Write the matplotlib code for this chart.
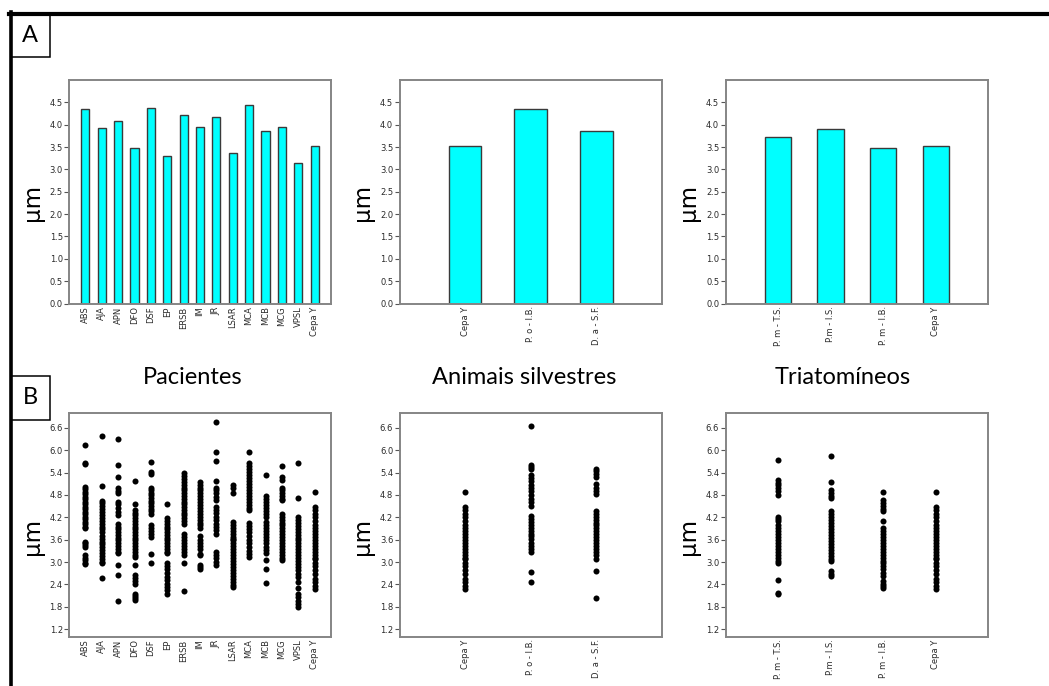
import matplotlib
matplotlib.use("Agg")
import matplotlib.pyplot as plt
from matplotlib.patches import Rectangle
from matplotlib.lines import Line2D

# --- bar chart means (A) ---
pac_labels = ["ABS", "AJA", "APN", "DFO", "DSF", "EP", "ERSB", "IM", "JR",
              "LSAR", "MCA", "MCB", "MCG", "VPSL", "Cepa Y"]
pac_means = [4.35, 3.92, 4.08, 3.47, 4.37, 3.31, 4.21, 3.94, 4.18,
             3.36, 4.45, 3.85, 3.94, 3.14, 3.53]

ani_labels = ["Cepa Y", "P. o - I.B.", "D. a - S.F."]
ani_means = [3.52, 4.35, 3.87]

tri_labels = ["P. m - T.S.", "P.m - I.S.", "P. m - I.B.", "Cepa Y"]
tri_means = [3.73, 3.90, 3.47, 3.52]

# --- individual measurements (B) ---
abs_v = [6.15, 5.67, 5.62, 5.02, 4.95, 4.88, 4.82, 4.75, 4.68, 4.62, 4.55, 4.48, 4.42, 4.35, 4.28,
         4.22, 4.15, 4.08, 4.02, 3.95, 3.90, 3.55, 3.50, 3.45, 3.40, 3.20, 3.12, 3.05, 2.98, 2.94]
aja_v = [6.38, 5.04, 4.65, 4.58, 4.50, 4.42, 4.35, 4.25, 4.18, 4.10, 4.02, 3.95, 3.88, 3.80, 3.70,
         3.62, 3.55, 3.48, 3.40, 3.32, 3.25, 3.15, 3.08, 3.00, 2.96, 2.57]
apn_v = [6.29, 5.60, 5.27, 4.98, 4.90, 4.84, 4.62, 4.55, 4.45, 4.35, 4.26, 4.03, 3.95, 3.88, 3.80,
         3.72, 3.65, 3.58, 3.50, 3.42, 3.35, 3.28, 3.23, 2.91, 2.66, 1.95]
dfo_v = [5.17, 4.57, 4.39, 4.32, 4.25, 4.18, 4.10, 4.02, 3.95, 3.88, 3.80, 3.72, 3.65, 3.58, 3.50,
         3.42, 3.35, 3.28, 3.20, 3.14, 2.91, 2.66, 2.58, 2.50, 2.42, 2.15, 2.10, 2.04, 1.98]
dsf_v = [5.68, 5.42, 5.37, 5.00, 4.93, 4.86, 4.79, 4.72, 4.65, 4.58, 4.50, 4.43, 4.36, 4.30, 3.99,
         3.90, 3.82, 3.74, 3.67, 3.21, 2.98]
ep_v = [4.57, 4.17, 4.10, 4.02, 3.95, 3.88, 3.80, 3.72, 3.65, 3.58, 3.50, 3.42, 3.35, 3.28, 3.23,
        2.97, 2.88, 2.80, 2.70, 2.60, 2.51, 2.42, 2.33, 2.24, 2.15]
ersb_v = [5.38, 5.30, 5.22, 5.15, 5.07, 5.00, 4.92, 4.85, 4.78, 4.70, 4.62, 4.55, 4.47, 4.40, 4.32,
          4.25, 4.17, 4.10, 4.02, 3.76, 3.68, 3.60, 3.52, 3.44, 3.36, 3.28, 3.20, 2.97, 2.22]
im_v = [5.16, 5.08, 5.00, 4.92, 4.84, 4.76, 4.68, 4.62, 4.54, 4.46, 4.38, 4.30, 4.22, 4.14, 4.06,
        3.98, 3.90, 3.69, 3.60, 3.52, 3.44, 3.36, 3.22, 3.18, 2.91, 2.86, 2.82]
jr_v = [6.77, 5.96, 5.71, 5.17, 5.00, 4.92, 4.84, 4.75, 4.66, 4.48, 4.40, 4.32, 4.22, 4.12, 4.02,
        3.94, 3.85, 3.76, 3.27, 3.18, 3.10, 3.00, 2.91]
lsar_v = [5.07, 4.98, 4.86, 4.08, 4.00, 3.92, 3.84, 3.76, 3.68, 3.63, 3.58, 3.50, 3.42, 3.34, 3.26,
          3.18, 3.10, 3.02, 2.94, 2.86, 2.78, 2.70, 2.62, 2.54, 2.46, 2.39, 2.33]
mca_v = [5.94, 5.65, 5.58, 5.50, 5.42, 5.34, 5.26, 5.18, 5.10, 5.02, 4.94, 4.86, 4.78, 4.70, 4.62,
         4.54, 4.46, 4.39, 4.04, 3.96, 3.88, 3.80, 3.70, 3.60, 3.50, 3.40, 3.30, 3.22, 3.14]
mcb_v = [5.33, 4.78, 4.70, 4.62, 4.54, 4.46, 4.38, 4.30, 4.21, 4.08, 4.00, 3.92, 3.84, 3.76, 3.68,
         3.60, 3.50, 3.40, 3.32, 3.23, 3.05, 2.80, 2.44]
mcg_v = [5.58, 5.29, 5.20, 5.00, 4.92, 4.85, 4.78, 4.70, 4.66, 4.30, 4.22, 4.14, 4.06, 3.98, 3.90,
         3.82, 3.74, 3.66, 3.58, 3.50, 3.42, 3.34, 3.26, 3.18, 3.10, 3.05]
vpsl_v = [5.65, 4.71, 4.20, 4.12, 4.04, 3.96, 3.88, 3.80, 3.72, 3.64, 3.58, 3.50, 3.42, 3.34, 3.26,
          3.18, 3.10, 3.02, 2.94, 2.86, 2.78, 2.69, 2.60, 2.45, 2.30, 2.15, 2.05, 1.95, 1.86, 1.79]
cepay_v = [4.87, 4.48, 4.40, 4.30, 4.20, 4.10, 4.00, 3.92, 3.84, 3.76, 3.68, 3.60, 3.52, 3.44, 3.36,
           3.28, 3.20, 3.12, 3.09, 2.96, 2.88, 2.78, 2.68, 2.55, 2.45, 2.36, 2.28]
poib_v = [6.64, 5.60, 5.55, 5.49, 5.33, 5.25, 5.17, 5.08, 5.00, 4.90, 4.80, 4.70, 4.60, 4.51, 4.24,
          4.16, 4.08, 4.00, 3.92, 3.84, 3.76, 3.71, 3.62, 3.52, 3.42, 3.34, 3.27, 2.73, 2.46]
dasf_v = [5.51, 5.43, 5.35, 5.27, 5.09, 5.00, 4.90, 4.82, 4.38, 4.30, 4.22, 4.14, 4.06, 3.98, 3.90,
          3.82, 3.74, 3.66, 3.58, 3.50, 3.42, 3.34, 3.26, 3.18, 3.09, 2.77, 2.04]
pmts_v = [5.75, 5.20, 5.12, 5.07, 4.98, 4.90, 4.80, 4.22, 4.15, 4.09, 4.00, 3.92, 3.84, 3.76, 3.68,
          3.60, 3.52, 3.44, 3.36, 3.28, 3.20, 3.12, 3.04, 2.98, 2.53, 2.18, 2.13]
pmis_v = [5.84, 5.16, 4.94, 4.86, 4.78, 4.71, 4.36, 4.28, 4.20, 4.12, 4.04, 3.96, 3.88, 3.80, 3.72,
          3.64, 3.56, 3.48, 3.40, 3.32, 3.24, 3.16, 3.08, 3.02, 2.76, 2.69, 2.62]
pmib_v = [4.87, 4.67, 4.58, 4.50, 4.42, 4.36, 4.09, 3.91, 3.84, 3.76, 3.68, 3.60, 3.52, 3.44, 3.36,
          3.28, 3.20, 3.12, 3.04, 2.96, 2.88, 2.80, 2.70, 2.62, 2.50, 2.42, 2.36, 2.29]

pac_points = [abs_v, aja_v, apn_v, dfo_v, dsf_v, ep_v, ersb_v, im_v, jr_v,
              lsar_v, mca_v, mcb_v, mcg_v, vpsl_v, cepay_v]
ani_points = [cepay_v, poib_v, dasf_v]
tri_points = [pmts_v, pmis_v, pmib_v, cepay_v]

bar_ticks = [0.0, 0.5, 1.0, 1.5, 2.0, 2.5, 3.0, 3.5, 4.0, 4.5]
dot_ticks = [1.2, 1.8, 2.4, 3.0, 3.6, 4.2, 4.8, 5.4, 6.0, 6.6]

titles = ["Pacientes", "Animais silvestres", "Triatomíneos"]

W, H = 1049, 686
fig = plt.figure(figsize=(W / 100, H / 100), dpi=100)


def px_axes(left, top, right, bottom):
    return fig.add_axes([left / W, 1 - bottom / H, (right - left) / W, (bottom - top) / H])


def style(ax, labels, ticks, ylim):
    ax.set_xlim(-1, len(labels))
    ax.set_ylim(*ylim)
    ax.set_xticks(range(len(labels)))
    ax.set_xticklabels(labels, rotation=90, fontsize=6, color="#2a2a2a")
    ax.set_yticks(ticks)
    ax.set_yticklabels([f"{t:.1f}" for t in ticks], fontsize=6, color="#2a2a2a")
    ax.tick_params(axis="x", length=0, pad=2)
    ax.tick_params(axis="y", length=3.5, width=0.8, color="#555555", pad=1)
    for s in ax.spines.values():
        s.set_color("#858585")
        s.set_linewidth(1.4)


lefts = [69, 399.5, 725.5]
rights = [331, 661.7, 988.3]
bar_sets = [(pac_labels, pac_means), (ani_labels, ani_means), (tri_labels, tri_means)]
dot_sets = [(pac_labels, pac_points), (ani_labels, ani_points), (tri_labels, tri_points)]

for i in range(3):
    # top row: means
    ax = px_axes(lefts[i], 80, rights[i], 303.5)
    labels, means = bar_sets[i]
    ax.bar(range(len(labels)), means, width=0.5, color="#00ffff",
           edgecolor="#3a3a3a", linewidth=1.0)
    style(ax, labels, bar_ticks, (0, 5.0))

    # bottom row: individual values
    ax2 = px_axes(lefts[i], 413, rights[i], 636.5)
    labels, pts = dot_sets[i]
    for j, vals in enumerate(pts):
        ax2.scatter([j] * len(vals), vals, s=19, color="black", linewidths=0, zorder=3)
    style(ax2, labels, dot_ticks, (1.0, 7.0))

    # µm axis labels
    fig.text((lefts[i] - 37) / W, 1 - 202 / H, "µm", rotation=90, fontsize=16.5,
             ha="center", va="center")
    fig.text((lefts[i] - 37) / W, 1 - 536 / H, "µm", rotation=90, fontsize=16.5,
             ha="center", va="center")

# group titles between the rows
for x, t in zip([193, 524, 843], titles):
    fig.text(x / W, 1 - 378 / H, t, fontsize=17, family="Lato", ha="center", va="center")

# outer frame (top and left edges only visible)
fig.add_artist(Line2D([9 / W, 1], [1 - 13.5 / H, 1 - 13.5 / H], color="black",
                      linewidth=3, transform=fig.transFigure))
fig.add_artist(Line2D([11 / W, 11 / W], [1 - 12 / H, 0], color="black",
                      linewidth=2.6, transform=fig.transFigure))

# panel letters
for y0, y1, letter in [(13, 57, "A"), (376, 420, "B")]:
    fig.add_artist(Rectangle((11 / W, 1 - y1 / H), 39 / W, (y1 - y0) / H, fill=False,
                             edgecolor="black", linewidth=1.1, transform=fig.transFigure))
    fig.text(30 / W, 1 - (y0 + y1) / 2 / H, letter, fontsize=17, family="Lato",
             ha="center", va="center")

fig.savefig("out.png", dpi=100)
